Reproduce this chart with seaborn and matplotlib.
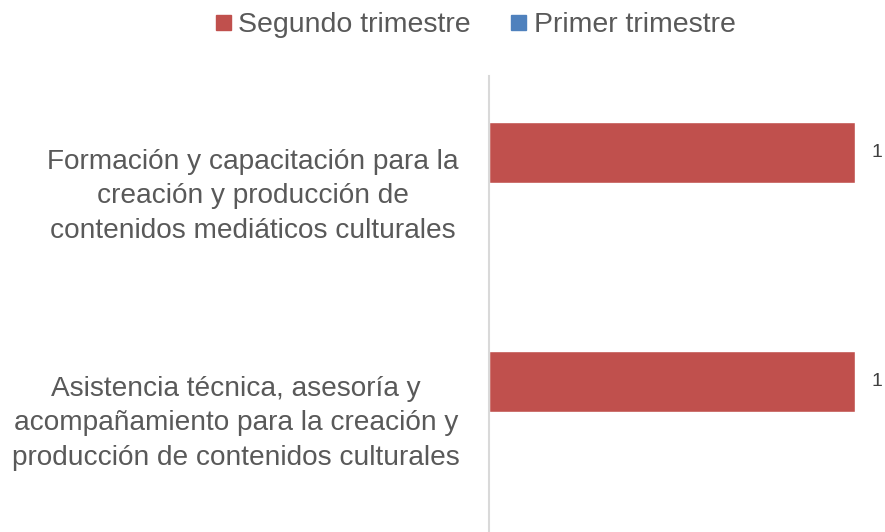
import pandas as pd
import seaborn as sns
import matplotlib.pyplot as plt
import matplotlib.transforms as mtransforms
from matplotlib.lines import Line2D

# Data
categorias = [
    "Formación y capacitación para la\ncreación y producción de\ncontenidos mediáticos culturales",
    "Asistencia técnica, asesoría y\nacompañamiento para la creación y\nproducción de contenidos culturales",
]
segundo_trimestre = [1, 1]
primer_trimestre = [0, 0]
series = ["Segundo trimestre", "Primer trimestre"]
colores = ["#C0504D", "#4F81BD"]

df = pd.DataFrame({
    "categoria": categorias * 2,
    "valor": segundo_trimestre + primer_trimestre,
    "serie": [series[0]] * 2 + [series[1]] * 2,
})

sns.set_style("white")
plt.rcParams["font.family"] = ["Liberation Sans", "DejaVu Sans"]
texto = "#595959"

fig = plt.figure(figsize=(8.85, 5.32), dpi=100)
ax = fig.add_axes([489 / 885, 0, (855 - 489) / 885, 456 / 532])

sns.barplot(data=df, x="valor", y="categoria", hue="serie", hue_order=series,
            palette=colores, orient="h", width=0.533, ax=ax, legend=False,
            saturation=1)

ax.set_xlim(0, 1)
ax.set_ylim(1.524, -0.467)
ax.set_xlabel("")
ax.set_ylabel("")
ax.set_xticks([])
for s in ["top", "right", "bottom"]:
    ax.spines[s].set_visible(False)
ax.spines["left"].set_color("#D9D9D9")
ax.spines["left"].set_linewidth(1.5)

# category labels, centred in the left column (Excel-style wrapping)
ax.tick_params(axis="y", length=0, labelsize=20.2, labelcolor=texto)
label_x = [253, 236]
label_dy = [-6, -4]
for lbl, lx, dy in zip(ax.get_yticklabels(), label_x, label_dy):
    offset = mtransforms.ScaledTranslation(0, dy / 100, fig.dpi_scale_trans)
    lbl.set_horizontalalignment("center")
    lbl.set_multialignment("center")
    lbl.set_linespacing(1.44)
    lbl.set_transform(mtransforms.blended_transform_factory(fig.transFigure, ax.transData) + offset)
    lbl.set_x(lx / 885)

# data labels for the red series only
cont = ax.containers[0]
for rect, v in zip(cont, segundo_trimestre):
    ax.text(rect.get_width() + 0.06, rect.get_y() + rect.get_height() / 2, str(v),
            va="center", ha="center", fontsize=14, color="#404040", clip_on=False)

handles = [Line2D([], [], marker="s", linestyle="", markersize=10.8,
                  markerfacecolor=c, markeredgecolor=c) for c in colores]
fig.legend(handles, series, loc="center", bbox_to_anchor=(474 / 885, 1 - 25 / 532),
           ncol=2, frameon=False, fontsize=20.5, labelcolor=texto,
           handletextpad=0.2, columnspacing=1.3, handlelength=0.7)

fig.savefig("out.png", dpi=100)
